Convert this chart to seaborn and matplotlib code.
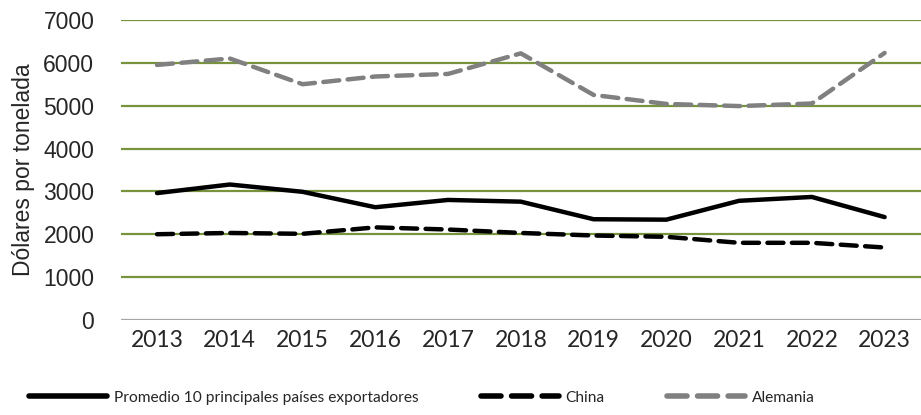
import matplotlib
matplotlib.use("Agg")
import matplotlib.pyplot as plt
import seaborn as sns
import pandas as pd

years = ["2013", "2014", "2015", "2016", "2017", "2018", "2019", "2020", "2021", "2022", "2023"]
promedio = [2960, 3160, 2990, 2630, 2800, 2760, 2350, 2340, 2780, 2870, 2400]
china = [2000, 2030, 2010, 2160, 2110, 2030, 1970, 1940, 1800, 1800, 1690]
alemania = [5950, 6100, 5500, 5680, 5740, 6220, 5250, 5040, 4990, 5050, 6230]
series_names = ["Promedio 10 principales países exportadores", "China", "Alemania"]
yticks = [0, 1000, 2000, 3000, 4000, 5000, 6000, 7000]

sns.set_theme(style="white")
plt.rcParams["font.family"] = ["Liberation Sans", "DejaVu Sans"]
plt.rcParams["lines.dash_capstyle"] = "round"
plt.rcParams["lines.solid_capstyle"] = "round"

df = pd.DataFrame({
    "year": years * 3,
    "value": promedio + china + alemania,
    "serie": [series_names[0]] * len(years) + [series_names[1]] * len(years) + [series_names[2]] * len(years),
})

fig = plt.figure(figsize=(9.21, 4.15), dpi=100)
ax = fig.add_axes([0.131, 0.229, 0.869, 0.723])

for y in yticks[1:]:
    ax.axhline(y, color="#77933C", lw=1.6, zorder=0)
ax.axhline(0, color="#A6A6A6", lw=1.6, zorder=0)

palette = {series_names[0]: "#000000", series_names[1]: "#000000", series_names[2]: "#808080"}
dashes = {series_names[0]: "", series_names[1]: (3.6, 1.9), series_names[2]: (3.6, 1.9)}
sns.lineplot(data=df, x="year", y="value", hue="serie", style="serie",
             palette=palette, dashes=dashes, linewidth=3.2, ax=ax, sort=False)

ax.set_xlim(-0.5, len(years) - 0.5)
ax.set_ylim(0, 7000)
ax.set_yticks(yticks)
ax.set_yticklabels([str(v) for v in yticks], fontsize=16.5)
ax.set_xticks(range(len(years)))
ax.set_xticklabels(years, fontsize=16.5, family=["Lato", "DejaVu Sans"])
ax.tick_params(axis="both", length=0)
ax.tick_params(axis="x", pad=7)
ax.tick_params(axis="y", pad=19)
ax.set_xlabel("")
ax.set_ylabel("Dólares por tonelada", fontsize=16.5, labelpad=6)
for s in ax.spines.values():
    s.set_visible(False)

handles, labels = ax.get_legend_handles_labels()
ax.get_legend().remove()
leg = fig.legend(handles, labels, loc="center", bbox_to_anchor=(0.458, 0.042), ncol=3, frameon=False,
                 handlelength=5.0, columnspacing=4.0, handletextpad=0.45,
                 prop={"family": ["Lato", "DejaVu Sans"], "size": 11.2})
for line in leg.get_lines():
    line.set_linewidth(4)

fig.savefig("out.png", dpi=100)
